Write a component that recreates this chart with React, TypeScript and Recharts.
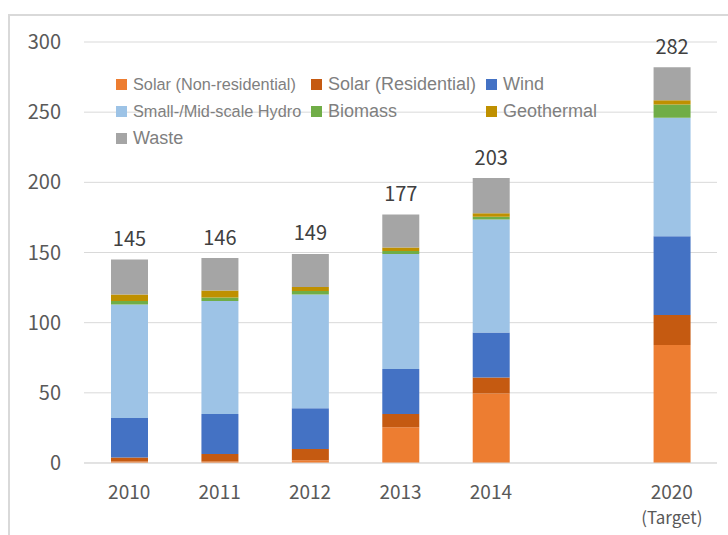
import React from "react";
import { Bar, BarChart, CartesianGrid, LabelList, Legend, XAxis, YAxis } from "recharts";

// categories (blank slot keeps the gap before the 2020 target)
const years = ["2010", "2011", "2012", "2013", "2014", "", "2020"];
const yearNotes = ["", "", "", "", "", "", "(Target)"];

// values
const solarNonRes = [1, 1, 2, 25.5, 49.5, null, 84];
const solarRes = [3, 5.5, 8, 9.5, 11.5, null, 21.5];
const wind = [28, 28.5, 29, 32, 32, null, 56];
const hydro = [81, 80.5, 81, 82, 80.5, null, 84.5];
const biomass = [2.5, 2.5, 2.5, 2, 2, null, 9.5];
const geothermal = [4.5, 5, 3, 2.5, 2.5, null, 3];
const waste = [25, 23, 23.5, 23.5, 25, null, 23.5];
const totals = [145, 146, 149, 177, 203, null, 282];

const yTicks = [0, 50, 100, 150, 200, 250, 300];

const series = [
    { key: "solarNonRes", name: "Solar (Non-residential)", color: "#ED7D31", small: true },
    { key: "solarRes", name: "Solar (Residential)", color: "#C55A11", small: false },
    { key: "wind", name: "Wind", color: "#4472C4", small: false },
    { key: "hydro", name: "Small-/Mid-scale Hydro", color: "#9DC3E6", small: true },
    { key: "biomass", name: "Biomass", color: "#70AD47", small: false },
    { key: "geothermal", name: "Geothermal", color: "#BF9000", small: false },
    { key: "waste", name: "Waste", color: "#A5A5A5", small: false },
];

const data = years.map((year, i) => ({
    year,
    note: yearNotes[i],
    solarNonRes: solarNonRes[i],
    solarRes: solarRes[i],
    wind: wind[i],
    hydro: hydro[i],
    biomass: biomass[i],
    geothermal: geothermal[i],
    waste: waste[i],
    total: totals[i],
}));

const tickFont = '"Noto Sans CJK JP", "Noto Sans", sans-serif';

function YearTick(props: any) {
    const { x, y, payload } = props;
    const idx = payload.index;
    return (
        <g>
            <text x={x} y={y + 27} textAnchor="middle" dominantBaseline="central" fill="#595959" fontSize={19} fontFamily={tickFont}>
                {payload.value}
            </text>
            {yearNotes[idx] ? (
                <text x={x} y={y + 53} textAnchor="middle" dominantBaseline="central" fill="#595959" fontSize={17} fontFamily={tickFont}>
                    {yearNotes[idx]}
                </text>
            ) : null}
        </g>
    );
}

function TotalLabel(props: any) {
    const { x, y, width, value } = props;
    if (value === null || value === undefined) return null;
    return (
        <text
            x={Number(x) + Number(width) / 2}
            y={Number(y) - 22}
            textAnchor="middle"
            dominantBaseline="central"
            fill="#404040"
            fontSize={20}
            fontFamily={tickFont}
        >
            {value}
        </text>
    );
}

function LegendBox() {
    return (
        <div
            style={{
                display: "grid",
                gridTemplateColumns: "195px 175px 130px",
                gridAutoRows: "27px",
                fontFamily: '"Liberation Sans", Arial, sans-serif',
                color: "#7f7f7f",
            }}
        >
            {series.map((s) => (
                <div key={s.key} style={{ display: "flex", alignItems: "center", whiteSpace: "nowrap" }}>
                    <span style={{ width: 11, height: 11, background: s.color, marginRight: 6, flex: "none" }} />
                    <span style={{ fontSize: s.small ? 16.3 : 18 }}>{s.name}</span>
                </div>
            ))}
        </div>
    );
}

export default function App() {
    return (
        <div style={{ position: "absolute", left: 0, top: 0, width: 728, height: 535, overflow: "hidden", background: "#fff" }}>
            <div
                style={{
                    position: "absolute",
                    left: 8,
                    top: 14,
                    width: 760,
                    height: 560,
                    borderLeft: "2px solid #d9d9d9",
                    borderTop: "2px solid #d9d9d9",
                }}
            />
            <div style={{ position: "absolute", left: 0, top: 0 }}>
                <BarChart width={728} height={535} data={data} margin={{ top: 42, right: 11, left: 0, bottom: 12 }} barSize={37}>
                    <CartesianGrid vertical={false} stroke="#d9d9d9" />
                    <XAxis
                        dataKey="year"
                        height={60}
                        tickLine={false}
                        axisLine={{ stroke: "#d9d9d9" }}
                        tickSize={0}
                        tickMargin={0}
                        interval={0}
                        tick={<YearTick />}
                    />
                    <YAxis
                        width={84}
                        domain={[0, 300]}
                        ticks={yTicks}
                        tickLine={false}
                        axisLine={false}
                        tickSize={0}
                        tickMargin={23}
                        tick={{ fill: "#595959", fontSize: 20, fontFamily: tickFont }}
                    />
                    <Legend
                        layout="horizontal"
                        verticalAlign="middle"
                        align="center"
                        content={() => <LegendBox />}
                        wrapperStyle={{ top: 71, left: 116, width: 520 }}
                    />
                    {series.map((s) => (
                        <Bar key={s.key} dataKey={s.key} name={s.name} stackId="a" fill={s.color} isAnimationActive={false}>
                            {s.key === "waste" ? <LabelList dataKey="total" content={<TotalLabel />} /> : null}
                        </Bar>
                    ))}
                </BarChart>
            </div>
        </div>
    );
}
